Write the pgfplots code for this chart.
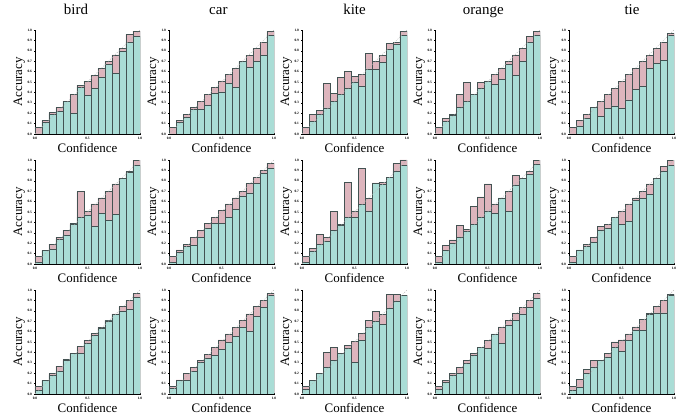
\documentclass[border=0pt]{standalone}
\usepackage{fontspec}
\setmainfont{Liberation Serif}
\usepackage{pgfplots}
\usepackage{pgfplotstable}
\pgfplotsset{compat=1.18}

\definecolor{gapPink}{HTML}{DDB5BD}
\definecolor{accTeal}{HTML}{AADDD6}
\definecolor{edgeGray}{HTML}{435252}

% columns: conf = bin confidence (pink), acc = bin accuracy (teal); 15 bins
\pgfplotstableread{
conf acc
0.064 0.0
0.13 0.11
0.205 0.19
0.256 0.218
0.30 0.317
0.38 0.20
0.47 0.45
0.506 0.37
0.567 0.44
0.63 0.545
0.695 0.67
0.76 0.583
0.82 0.79
0.958 0.88
0.99 0.94
}\tbirdA
\pgfplotstableread{
conf acc
0.064 0
0.13 0.11
0.19 0.16
0.256 0.24
0.317 0.24
0.38 0.276
0.445 0.39
0.51 0.404
0.574 0.487
0.63 0.45
0.69 0.70
0.756 0.638
0.824 0.70
0.88 0.756
0.987 0.95
}\tcarA
\pgfplotstableread{
conf acc
0.064 0
0.19 0.12
0.224 0.19
0.484 0.25
0.388 0.314
0.545 0.378
0.60 0.436
0.555 0.50
0.57 0.458
0.776 0.625
0.696 0.62
0.753 0.69
0.87 0.817
0.88 0.865
0.987 0.95
}\tkiteA
\pgfplotstableread{
conf acc
0.064 0
0.15 0.12
0.19 0.18
0.38 0.256
0.497 0.314
0.37 0.38
0.497 0.44
0.50 0.51
0.57 0.478
0.63 0.526
0.696 0.67
0.76 0.564
0.82 0.70
0.942 0.88
0.987 0.95
}\torangeA
\pgfplotstableread{
conf acc
0.064 0
0.128 0.077
0.19 0.147
0.25 0.256
0.317 0.167
0.378 0.247
0.44 0.27
0.506 0.244
0.57 0.327
0.63 0.426
0.696 0.46
0.756 0.63
0.824 0.68
0.88 0.708
0.968 0.95
}\ttieA
\pgfplotstableread{
conf acc
0.071 0.013
0.13 0.132
0.19 0.142
0.258 0.239
0.326 0.277
0.387 0.377
0.694 0.45
0.51 0.47
0.577 0.36
0.635 0.49
0.70 0.416
0.77 0.48
0.82 0.82
0.89 0.877
0.997 0.95
}\tbirdB
\pgfplotstableread{
conf acc
0.071 0.013
0.135 0.113
0.19 0.171
0.258 0.18
0.326 0.258
0.387 0.342
0.45 0.394
0.513 0.394
0.577 0.448
0.635 0.523
0.70 0.655
0.774 0.684
0.83 0.774
0.90 0.871
0.97 0.92
}\tcarB
\pgfplotstableread{
conf acc
0.071 0.013
0.148 0.126
0.284 0.187
0.255 0.22
0.506 0.32
0.38 0.37
0.787 0.45
0.51 0.45
0.923 0.574
0.632 0.51
0.78 0.774
0.787 0.768
0.83 0.83
0.968 0.894
1.0 0.95
}\tkiteB
\pgfplotstableread{
conf acc
0.071 0.013
0.18 0.13
0.232 0.194
0.371 0.255
0.33 0.316
0.555 0.384
0.645 0.45
0.77 0.51
0.577 0.49
0.63 0.635
0.70 0.506
0.85 0.76
0.82 0.82
0.89 0.86
0.997 0.955
}\torangeB
\pgfplotstableread{
conf acc
0.071 0.013
0.13 0.135
0.187 0.174
0.258 0.21
0.365 0.32
0.384 0.34
0.445 0.448
0.51 0.384
0.577 0.41
0.635 0.613
0.70 0.629
0.77 0.668
0.82 0.826
0.935 0.894
0.994 0.95
}\ttieB
\pgfplotstableread{
conf acc
0.071 0.032
0.13 0.132
0.197 0.177
0.268 0.22
0.33 0.322
0.39 0.387
0.455 0.394
0.516 0.49
0.58 0.56
0.642 0.632
0.71 0.703
0.77 0.765
0.839 0.797
0.90 0.816
0.964 0.926
}\tbirdC
\pgfplotstableread{
conf acc
0.071 0.055
0.135 0.13
0.197 0.13
0.258 0.216
0.322 0.303
0.384 0.342
0.45 0.368
0.52 0.426
0.577 0.497
0.642 0.555
0.71 0.642
0.77 0.603
0.839 0.742
0.90 0.835
0.964 0.948
}\tcarC
\pgfplotstableread{
conf acc
0.071 0.048
0.13 0.13
0.19 0.194
0.40 0.255
0.45 0.32
0.38 0.387
0.468 0.442
0.506 0.306
0.58 0.516
0.706 0.645
0.79 0.70
0.765 0.665
0.958 0.82
0.958 0.89
0.95 0.948
}\tkiteC
\pgfplotstableread{
conf acc
0.071 0.048
0.13 0.113
0.197 0.177
0.258 0.197
0.322 0.29
0.387 0.368
0.44 0.445
0.516 0.439
0.575 0.577
0.645 0.484
0.71 0.66
0.774 0.71
0.835 0.77
0.90 0.83
0.964 0.922
}\torangeC
\pgfplotstableread{
conf acc
0.071 0.039
0.142 0.065
0.239 0.20
0.32 0.26
0.32 0.322
0.394 0.355
0.50 0.448
0.52 0.413
0.577 0.516
0.645 0.61
0.713 0.61
0.774 0.768
0.839 0.78
0.90 0.78
0.958 0.948
}\ttieC

\pgfplotsset{
  rel/.style={
    scale only axis, width=105bp, height=104bp,
    anchor=south west,
    xmin=0, xmax=1, ymin=0, ymax=1,
    axis lines=left, axis line style={-, black, line width=0.8bp},
    xtick={0,0.5,1}, ytick={0,0.1,0.2,0.3,0.4,0.5,0.6,0.7,0.8,0.9,1},
    tick label style={font=\fontsize{3.5}{4}\selectfont\bfseries},
    /pgf/number format/.cd, fixed, fixed zerofill, precision=1,
      assume math mode=true, /pgfplots/.cd,
    major tick length=1.2bp, tick style={black, line width=0.3bp},
    xticklabel style={yshift=1bp}, yticklabel style={xshift=1bp},
    xlabel={Confidence}, ylabel={Accuracy},
    label style={font=\fontsize{13}{14}\selectfont},
    xlabel style={at={(axis description cs:0.5,-0.135)}, anchor=center},
    ylabel style={at={(axis description cs:-0.15,0.5)}, anchor=center},
    title style={font=\fontsize{15}{16}\selectfont, anchor=base},
  },
  bars/.style={ybar, bar width=0.0667, bar shift=0pt, draw=edgeGray, line width=0.7bp},
  gap/.style={bars, fill=gapPink},
  acc/.style={bars, fill=accTeal},
  diag/.style={gray!55, line width=0.4bp, dash pattern=on 1.2bp off 1.2bp},
}

% one panel: #1 x, #2 y, #3 table, #4 extra options
\newcommand{\panel}[4]{%
  \begin{axis}[rel, at={(#1bp,#2bp)}, #4]
    \addplot[gap] table[x expr=\coordindex/15+1/30, y=conf] {#3};
    \addplot[acc] table[x expr=\coordindex/15+1/30, y=acc] {#3};
    \addplot[diag] coordinates {(0,0) (1,1)};
  \end{axis}}

\begin{document}
\begin{tikzpicture}
\useasboundingbox (0,0) rectangle (681bp,415bp);
\panel{35}{281}{\tbirdA}{title={bird}, title style={at={(axis description cs:0.39,1.09)}}}
\panel{169}{281}{\tcarA}{title={car}, title style={at={(axis description cs:0.47,1.09)}}}
\panel{302}{281}{\tkiteA}{title={kite}, title style={at={(axis description cs:0.5,1.09)}}}
\panel{435}{281}{\torangeA}{title={orange}, title style={at={(axis description cs:0.46,1.09)}}}
\panel{569}{281}{\ttieA}{title={tie}, title style={at={(axis description cs:0.6,1.09)}}}
\panel{35}{151}{\tbirdB}{}
\panel{169}{151}{\tcarB}{}
\panel{302}{151}{\tkiteB}{}
\panel{435}{151}{\torangeB}{}
\panel{569}{151}{\ttieB}{}
\panel{35}{21}{\tbirdC}{}
\panel{169}{21}{\tcarC}{}
\panel{302}{21}{\tkiteC}{}
\panel{435}{21}{\torangeC}{}
\panel{569}{21}{\ttieC}{}
\end{tikzpicture}
\end{document}
